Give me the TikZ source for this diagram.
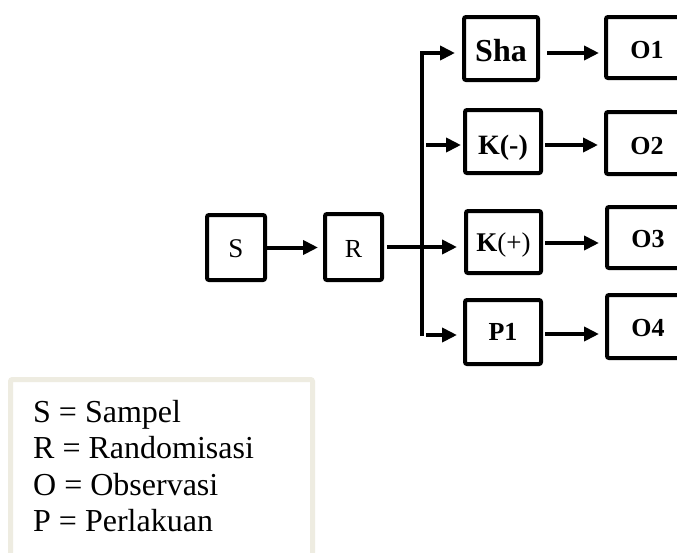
\documentclass[tikz,border=0pt]{standalone}
\usepackage{fontspec}
\setmainfont{Liberation Serif}
\usetikzlibrary{arrows.meta,calc}
\definecolor{legendc}{RGB}{238,236,225}
\newcommand\lowtext[2]{\raisebox{-#1pt}[\height][\depth]{#2}}
\tikzset{
  box/.style={draw=black, line width=4pt, rounded corners=2pt, inner sep=0pt, align=center, text depth=0pt},
  arr/.style={line width=4pt, -{Triangle[length=15pt,width=14pt]}},
  fs/.style={font=\fontsize{#1}{#1}\selectfont},
  legtext/.style={anchor=base west, inner sep=0pt, font=\fontsize{32}{36}\selectfont},
}
\begin{document}
\begin{tikzpicture}[x=1pt,y=-1pt]
\clip (0,0) rectangle (677,552);
\fill[white] (0,0) rectangle (677,552);
% main boxes
\node[box, fs=27, minimum width=58pt, minimum height=65pt] (S) at (236,247.5) {\lowtext{1.5}{S}};
\node[box, fs=26, minimum width=57pt, minimum height=66pt] (R) at (353.5,247) {\lowtext{1.5}{R}};
\node[box, fs=32, minimum width=74pt, minimum height=63pt] (Sha) at (501,48.5) {\lowtext{1.5}{\textbf{Sha}}};
\node[box, fs=28, minimum width=76pt, minimum height=63pt] (Km) at (503,141.5) {\lowtext{3.5}{\textbf{K(-)}}};
\node[box, fs=27, minimum width=75pt, minimum height=62pt] (Kp) at (503.5,242) {\lowtext{0.5}{\textbf{K}(+)}};
\node[box, fs=26, minimum width=76pt, minimum height=64pt] (P1) at (503,332) {\lowtext{0}{\textbf{P1}}};
\node[box, fs=26, minimum width=82pt, minimum height=61pt] (O1) at (647,47.5) {\lowtext{2.5}{\textbf{O1}}};
\node[box, fs=26, minimum width=82pt, minimum height=62pt] (O2) at (647,143) {\lowtext{3}{\textbf{O2}}};
\node[box, fs=26, minimum width=82pt, minimum height=61pt] (O3) at (648,237.5) {\lowtext{1}{\textbf{O3}}};
\node[box, fs=26, minimum width=82pt, minimum height=63pt] (O4) at (648,326.5) {\lowtext{1}{\textbf{O4}}};
% trunk
\coordinate (tt) at (421.5,53);
\coordinate (tb) at (421.5,336);
% connectors
\draw[arr, shorten >=5pt] (S.east) -- (S.east -| R.west);
\draw[arr] ([xshift=3pt]R.east) -- ($(R.east -| Kp.west)+(-7,0)$);
\draw[arr, shorten >=7pt] (tb) -- (tt) -- (tt -| Sha.west);
\draw[arr] ($(tt |- Km)+(4.5,3.5)$) -- ($(Km.west)+(-2,3.5)$);
\draw[arr] ($(tb)+(4.5,-1)$) -- ($(tb -| P1.west)+(-6,-1)$);
\draw[arr] ($(Sha.east)+(7,4.5)$) -- ($(Sha.east -| O1.west)+(-5,4.5)$);
\draw[arr] ($(Km.east)+(2,3.5)$) -- ($(Km.east -| O2.west)+(-6,3.5)$);
\draw[arr] ($(Kp.east)+(2,1)$) -- ($(Kp.east -| O3.west)+(-6,1)$);
\draw[arr] ($(P1.east)+(2,2)$) -- ($(P1.east -| O4.west)+(-6,2)$);
% legend
\draw[legendc, line width=5pt, rounded corners=2pt] (10.5,379.5) rectangle (312.5,600);
\node[legtext] (l1) at (33,422) {S = Sampel};
\node[legtext] (l2) at (33,458.5) {R = Randomisasi};
\node[legtext] (l3) at (33,495) {O = Observasi};
\node[legtext] (l4) at (33,531.5) {P = Perlakuan};
\end{tikzpicture}
\end{document}
